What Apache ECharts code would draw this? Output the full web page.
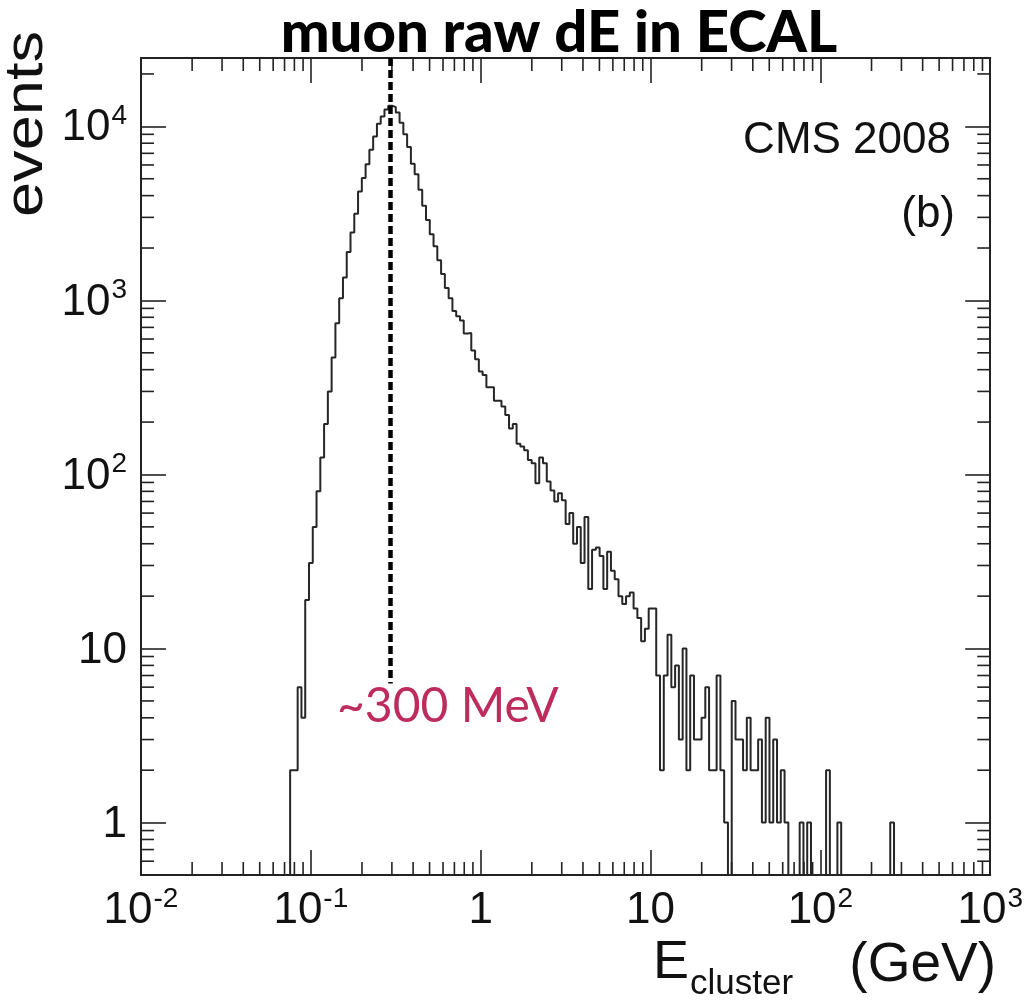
<!DOCTYPE html>
<html>
<head>
<meta charset="utf-8">
<script src="https://cdn.jsdelivr.net/npm/echarts@6/dist/echarts.min.js"></script>
<style>
html,body{margin:0;padding:0;background:#ffffff;}
#chart{width:1026px;height:1004px;}
</style>
</head>
<body>
<div id="chart"></div>
<script>
// ---------------- data ----------------
const titleText = 'muon raw dE in ECAL';
const yAxisTitle = 'events';
const xAxisTitleMain = 'E';
const xAxisTitleSub = 'cluster';
const xAxisTitleUnit = '(GeV)';
const experimentLabel = 'CMS 2008';
const panelLabel = '(b)';
const peakLabel = '~300 MeV';

const xTickValues = [0.01, 0.1, 1, 10, 100, 1000];
const xTickLabels = ['{b|10}{s|-2}', '{b|10}{s|-1}', '{b|1}', '{b|10}', '{b|10}{s|2}', '{b|10}{s|3}'];
const yTickValues = [1, 10, 100, 1000, 10000];
const yTickLabels = ['{b|1}', '{b|10}', '{b|10}{s|2}', '{b|10}{s|3}', '{b|10}{s|4}'];

const xRange = [0.01, 1000];
const yRange = [0.5, 24700];

// log-uniform binning of the histogram
const binsPerDecade = 45;
const firstBinLowEdge = 0.0755; // GeV

// events per bin, starting at firstBinLowEdge
const counts = [
  2, 2, 6, 4, 19, 31, 50, 80, 125, 195, 300, 470,
  740, 1030, 1355, 1895, 2455, 3150, 4220, 5050, 6050, 7350, 8750, 10350, 11400, 12500,
  13150, 12900, 12000, 10500, 9000, 7600, 6100, 5300, 4330, 3500, 2900, 2400, 2050, 1700, 1420, 1180,
  1030, 870, 810, 766, 645, 650, 515, 459, 390, 373, 317, 317, 265, 265, 246, 220,
  184, 195, 150, 145, 138, 121, 116, 89, 125, 116, 91, 81,
  70, 78, 71, 52, 60, 40, 50, 31, 57, 22,
  37, 38, 34, 22, 36, 28, 25, 20, 18, 20,
  21, 17, 15, 11, 13, 17, 17, 7, 2, 7,
  12, 6, 8, 3, 10, 2, 7, 3, 3, 4,
  6, 2, 2, 7, 2, 1, 0, 5, 3, 3,
  2, 4, 2, 2, 3, 1, 4, 1, 3, 1,
  2, 1, 0, 0, 0, 1, 0, 1, 0, 0,
  0, 0, 2, 0, 0, 1, 0, 0, 0, 0,
  0, 0, 0, 0, 0, 0, 0, 0, 0, 1
];

const peakEnergy = 0.293;     // GeV, dashed marker
const markerBottom = 6.3;     // events, lower end of dashed marker

// ---------------- derived ----------------
function binEdge(k) { return firstBinLowEdge * Math.pow(10, k / binsPerDecade); }
const histPoints = [];
histPoints.push([binEdge(0), yRange[0]]);
for (let k = 0; k < counts.length; k++) {
  const v = Math.max(counts[k], yRange[0]);
  histPoints.push([binEdge(k), v]);
  histPoints.push([binEdge(k + 1), v]);
}
histPoints.push([binEdge(counts.length), yRange[0]]);

const xMinor = [];
for (let d = -2; d <= 2; d++) for (let m = 2; m <= 9; m++) xMinor.push([m * Math.pow(10, d), 1]);
const yMinor = [];
[0.6, 0.7, 0.8, 0.9].forEach(v => yMinor.push([1, v]));
for (let d = 0; d <= 3; d++) for (let m = 2; m <= 9; m++) yMinor.push([1, m * Math.pow(10, d)]);
yMinor.push([1, 20000]);

function labelFor(values, labels) {
  return function (val) {
    for (let i = 0; i < values.length; i++) {
      if (Math.abs(Math.log10(val) - Math.log10(values[i])) < 1e-6) return labels[i];
    }
    return '';
  };
}

const tickFont = 'Liberation Sans';
const richLabels = {
  b: { fontSize: 44, fontFamily: tickFont, color: '#111', lineHeight: 48, verticalAlign: 'bottom' },
  s: { fontSize: 28, fontFamily: tickFont, color: '#111', lineHeight: 48, verticalAlign: 'top', padding: [0, 0, 0, 1] }
};

const frameColor = '#222';
const majorLen = 25, minorLen = 13;

function axisBase(extra) {
  return Object.assign({
    type: 'log',
    logBase: 10,
    axisLine: { show: true, lineStyle: { color: frameColor, width: 2 } },
    axisTick: { show: true, inside: true, length: majorLen, lineStyle: { color: frameColor, width: 1.6 } },
    splitLine: { show: false },
    minorTick: { show: false },
    minorSplitLine: { show: false }
  }, extra);
}

const chart = echarts.init(document.getElementById('chart'), null, { renderer: 'canvas' });
chart.setOption({
  animation: false,
  backgroundColor: '#ffffff',
  grid: { left: 141, right: 33, top: 58, bottom: 129, containLabel: false },
  xAxis: [
    axisBase({ position: 'bottom', min: xRange[0], max: xRange[1],
      axisLabel: { show: true, margin: 10, formatter: labelFor(xTickValues, xTickLabels), rich: richLabels } }),
    axisBase({ position: 'top', min: xRange[0], max: xRange[1], axisLabel: { show: false } })
  ],
  yAxis: [
    axisBase({ position: 'left', min: yRange[0], max: yRange[1],
      axisLabel: { show: true, margin: 14, formatter: labelFor(yTickValues, yTickLabels), rich: richLabels } }),
    axisBase({ position: 'right', min: yRange[0], max: yRange[1], axisLabel: { show: false } })
  ],
  series: [
    {
      type: 'line',
      xAxisIndex: 0, yAxisIndex: 0,
      data: histPoints,
      showSymbol: false,
      symbol: 'none',
      clip: true,
      lineStyle: { color: '#262626', width: 2 },
      markLine: {
        silent: true,
        symbol: ['none', 'none'],
        label: { show: false },
        lineStyle: { color: '#000', width: 4.5, type: [8, 4] },
        data: [[{ coord: [peakEnergy, yRange[1]] }, { coord: [peakEnergy, markerBottom] }]]
      },
      z: 3
    },
    {
      type: 'custom',
      xAxisIndex: 0, yAxisIndex: 0,
      data: xMinor,
      clip: false,
      renderItem: function (params, api) {
        const cs = params.coordSys;
        const x = api.coord([api.value(0), 1])[0];
        const st = { stroke: frameColor, lineWidth: 1.6 };
        return { type: 'group', children: [
          { type: 'line', shape: { x1: x, y1: cs.y + cs.height, x2: x, y2: cs.y + cs.height - minorLen }, style: st },
          { type: 'line', shape: { x1: x, y1: cs.y, x2: x, y2: cs.y + minorLen }, style: st }
        ] };
      },
      silent: true, z: 4
    },
    {
      type: 'custom',
      xAxisIndex: 0, yAxisIndex: 0,
      data: yMinor,
      clip: false,
      renderItem: function (params, api) {
        const cs = params.coordSys;
        const y = api.coord([1, api.value(1)])[1];
        const st = { stroke: frameColor, lineWidth: 1.6 };
        return { type: 'group', children: [
          { type: 'line', shape: { x1: cs.x, y1: y, x2: cs.x + minorLen, y2: y }, style: st },
          { type: 'line', shape: { x1: cs.x + cs.width, y1: y, x2: cs.x + cs.width - minorLen, y2: y }, style: st }
        ] };
      },
      silent: true, z: 4
    }
  ],
  graphic: [
    { type: 'text', x: 559, y: 33, style: { text: titleText, fontFamily: 'Lato', fontWeight: 900, fontSize: 58, fill: '#000', align: 'center', verticalAlign: 'middle' } },
    { type: 'text', x: 27, y: 124, rotation: Math.PI / 2, scaleX: 1.17, style: { text: yAxisTitle, fontFamily: 'Liberation Sans', fontSize: 54, fill: '#111', align: 'center', verticalAlign: 'middle' } },
    { type: 'text', x: 653, y: 963, style: { text: xAxisTitleMain, fontFamily: 'Liberation Sans', fontSize: 54, fill: '#111', align: 'left', verticalAlign: 'middle' } },
    { type: 'text', x: 690, y: 984, style: { text: xAxisTitleSub, fontFamily: 'Liberation Sans', fontSize: 35, fill: '#111', align: 'left', verticalAlign: 'middle' } },
    { type: 'text', x: 996, y: 966, style: { text: xAxisTitleUnit, fontFamily: 'Liberation Sans', fontSize: 55, fill: '#111', align: 'right', verticalAlign: 'middle' } },
    { type: 'text', x: 951, y: 141, style: { text: experimentLabel, fontFamily: 'Liberation Sans', fontSize: 44, fill: '#111', align: 'right', verticalAlign: 'middle' } },
    { type: 'text', x: 955, y: 215, style: { text: panelLabel, fontFamily: 'Liberation Sans', fontSize: 44, fill: '#111', align: 'right', verticalAlign: 'middle' } },
    { type: 'text', x: 337, y: 707, style: { text: peakLabel, fontFamily: 'Lato', fontSize: 48, fill: '#BE2C5C', align: 'left', verticalAlign: 'middle' } }
  ]
});
</script>
</body>
</html>
